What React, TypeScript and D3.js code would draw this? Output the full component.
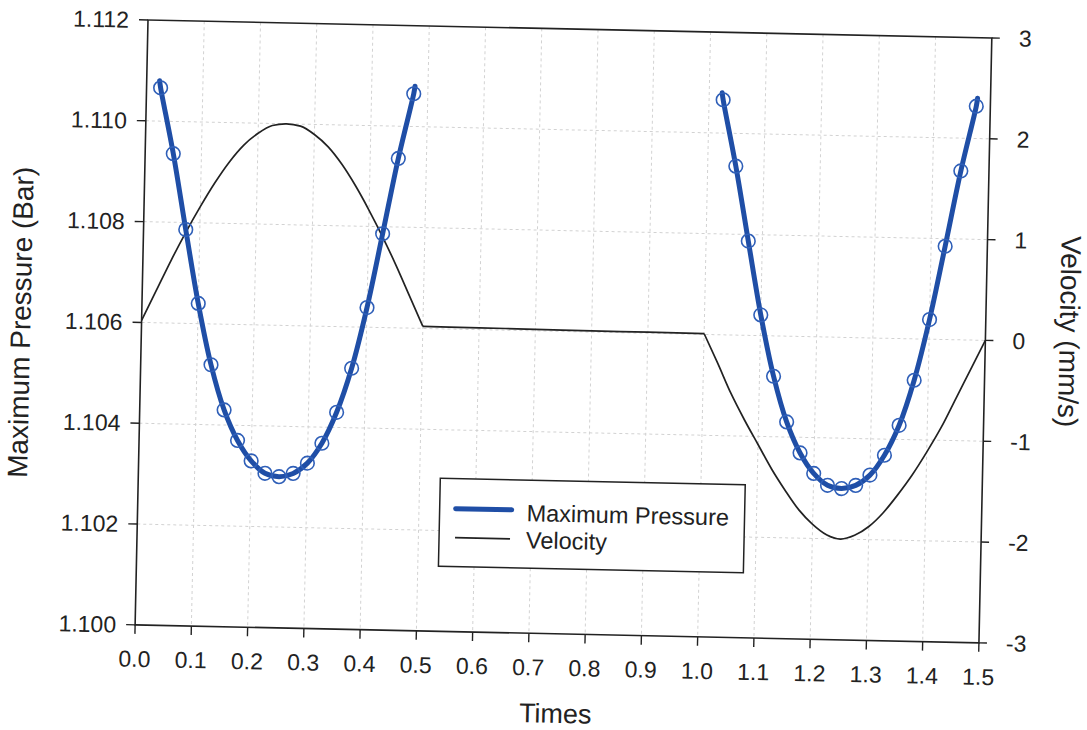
import React from "react";
import * as d3 from "d3";

// ---- Data ----
const pressureTimes1 = [0.025, 0.05, 0.075, 0.1, 0.125, 0.15, 0.175, 0.2, 0.225, 0.25, 0.275, 0.3, 0.325, 0.35, 0.375, 0.4, 0.425, 0.45, 0.475];
const pressureValues1 = [1.11066, 1.10936, 1.10786, 1.1064, 1.10519, 1.1043, 1.1037, 1.1033, 1.10306, 1.103, 1.10307, 1.10328, 1.10368, 1.1043, 1.10518, 1.10639, 1.10786, 1.10936, 1.11065];
const pressureTimes2 = [1.025, 1.05, 1.075, 1.1, 1.125, 1.15, 1.175, 1.2, 1.225, 1.25, 1.275, 1.3, 1.325, 1.35, 1.375, 1.4, 1.425, 1.45, 1.475];
const pressureValues2 = [1.11066, 1.10935, 1.10787, 1.10641, 1.1052, 1.1043, 1.10369, 1.10329, 1.10306, 1.103, 1.10307, 1.10328, 1.10368, 1.10428, 1.10518, 1.10639, 1.10785, 1.10935, 1.11064];
// fitted line runs slightly beyond the first / last markers
const lineEndTimes1 = [0.023, 0.477];
const lineEndTimes2 = [1.023, 1.477];
const lineEndValues = [1.1108, 1.1108];

// velocity, in three phases (rise/fall, rest, reverse)
const velocityTimesA = [0, 0.025, 0.05, 0.075, 0.1, 0.125, 0.15, 0.175, 0.2, 0.225, 0.25, 0.275, 0.3, 0.325, 0.35, 0.375, 0.4, 0.425, 0.45, 0.475, 0.5];
const velocityValuesA = [0.02, 0.32, 0.62, 0.9, 1.16, 1.4, 1.61, 1.78, 1.9, 1.98, 2.0, 1.98, 1.9, 1.78, 1.61, 1.4, 1.16, 0.9, 0.62, 0.32, 0.02];
const velocityTimesB = [0.5, 0.6, 0.7, 0.8, 0.9, 1.0];
const velocityValuesB = [0.02, 0.018, 0.015, 0.012, 0.01, 0.008];
const velocityTimesC = [1.0, 1.025, 1.05, 1.075, 1.1, 1.125, 1.15, 1.175, 1.2, 1.225, 1.25, 1.275, 1.3, 1.325, 1.35, 1.375, 1.4, 1.425, 1.45, 1.475, 1.5];
const velocityValuesC = [0.008, -0.28, -0.58, -0.84, -1.08, -1.32, -1.53, -1.72, -1.86, -1.96, -2.0, -1.96, -1.87, -1.73, -1.55, -1.35, -1.12, -0.87, -0.58, -0.29, 0.0];

const xTicks = [0, 0.1, 0.2, 0.3, 0.4, 0.5, 0.6, 0.7, 0.8, 0.9, 1.0, 1.1, 1.2, 1.3, 1.4, 1.5];
const leftTicks = [1.1, 1.102, 1.104, 1.106, 1.108, 1.11, 1.112];
const rightTicks = [-3, -2, -1, 0, 1, 2, 3];

const seriesNames = ["Maximum Pressure", "Velocity"];

// ---- Layout ----
const W = 844;
const H = 605;
const FONT = "'Liberation Sans', Arial, Helvetica, sans-serif";
const BLUE = "#1f4ea6";
const BLUE_MARK = "#2f5fb8";
const INK = "#222";

export default function App() {
  const x = d3.scaleLinear().domain([0, 1.5]).range([0, W]);
  const yL = d3.scaleLinear().domain([1.1, 1.112]).range([H, 0]);
  const yR = d3.scaleLinear().domain([-3, 3]).range([H, 0]);

  const pLine = d3
    .line<[number, number]>()
    .x((d) => x(d[0]))
    .y((d) => yL(d[1]))
    .curve(d3.curveCatmullRom);

  const vLine = d3
    .line<[number, number]>()
    .x((d) => x(d[0]))
    .y((d) => yR(d[1]))
    .curve(d3.curveMonotoneX);

  const zip = (ts: number[], vs: number[]) => ts.map((t, i) => [t, vs[i]] as [number, number]);

  const p1: [number, number][] = [
    [lineEndTimes1[0], lineEndValues[0]],
    ...zip(pressureTimes1, pressureValues1),
    [lineEndTimes1[1], lineEndValues[1]],
  ];
  const p2: [number, number][] = [
    [lineEndTimes2[0], lineEndValues[0]],
    ...zip(pressureTimes2, pressureValues2),
    [lineEndTimes2[1], lineEndValues[1]],
  ];
  const markers = [...zip(pressureTimes1, pressureValues1), ...zip(pressureTimes2, pressureValues2)];
  const velParts = [
    zip(velocityTimesA, velocityValuesA),
    zip(velocityTimesB, velocityValuesB),
    zip(velocityTimesC, velocityValuesC),
  ];

  const fmtL = d3.format(".3f");
  const fmtX = d3.format(".1f");

  return (
    <svg
      width={1087}
      height={730}
      style={{ position: "absolute", left: 0, top: 0, background: "#fff" }}
      fontFamily={FONT}
    >
      <rect x={0} y={0} width={1087} height={730} fill="#fff" />
      <g transform="translate(148,20) rotate(1.22)">
        {/* grid */}
        {xTicks.slice(1, -1).map((t) => (
          <line key={"gx" + t} x1={x(t)} x2={x(t)} y1={0} y2={H} stroke="#d2d2d2" strokeWidth={1} strokeDasharray="3,3" />
        ))}
        {leftTicks.slice(1, -1).map((t) => (
          <line key={"gy" + t} x1={0} x2={W} y1={yL(t)} y2={yL(t)} stroke="#d2d2d2" strokeWidth={1} strokeDasharray="3,3" />
        ))}

        {/* velocity */}
        {velParts.map((part, i) => (
          <path key={"v" + i} d={vLine(part) || ""} fill="none" stroke={INK} strokeWidth={1.7} strokeLinejoin="round" />
        ))}

        {/* pressure */}
        <path d={pLine(p1) || ""} fill="none" stroke={BLUE} strokeWidth={5} strokeLinecap="round" />
        <path d={pLine(p2) || ""} fill="none" stroke={BLUE} strokeWidth={5} strokeLinecap="round" />
        {markers.map((d, i) => (
          <circle key={"m" + i} cx={x(d[0])} cy={yL(d[1])} r={6.8} fill="none" stroke={BLUE_MARK} strokeWidth={1.6} />
        ))}

        {/* frame */}
        <rect x={0} y={0} width={W} height={H} fill="none" stroke={INK} strokeWidth={1.6} />

        {/* left axis */}
        {leftTicks.map((t) => (
          <g key={"lt" + t}>
            <line x1={-9} x2={0} y1={yL(t)} y2={yL(t)} stroke={INK} strokeWidth={1.4} />
            <text x={-19} y={yL(t)} dy="0.35em" textAnchor="end" fontSize={23} fill={INK}>
              {fmtL(t)}
            </text>
          </g>
        ))}
        {/* right axis */}
        {rightTicks.map((t) => (
          <g key={"rt" + t}>
            <line x1={W} x2={W + 8} y1={yR(t)} y2={yR(t)} stroke={INK} strokeWidth={1.4} />
            <text x={W + 27} y={yR(t)} dy="0.35em" textAnchor="start" fontSize={23} fill={INK}>
              {String(t)}
            </text>
          </g>
        ))}
        {/* bottom axis */}
        {xTicks.map((t) => (
          <g key={"bt" + t}>
            <line x1={x(t)} x2={x(t)} y1={H} y2={H + 9} stroke={INK} strokeWidth={1.4} />
            <text x={x(t)} y={H + 42} textAnchor="middle" fontSize={23} fill={INK}>
              {fmtX(t)}
            </text>
          </g>
        ))}

        {/* axis titles */}
        <text x={W / 2} y={H + 89} textAnchor="middle" fontSize={27} fill={INK}>
          Times
        </text>
        <text transform={`translate(-121,305) rotate(-90)`} textAnchor="middle" dy="0.35em" fontSize={28} fill={INK}>
          Maximum Pressure (Bar)
        </text>
        <text transform={`translate(928,292) rotate(90)`} textAnchor="middle" dy="0.35em" fontSize={28} fill={INK}>
          Velocity (mm/s)
        </text>

        {/* legend */}
        <rect x={302} y={452} width={305} height={88} fill="#fff" stroke={INK} strokeWidth={1.5} />
        <line x1={318} x2={374} y1={482} y2={482} stroke={BLUE} strokeWidth={5} strokeLinecap="round" />
        <text x={389} y={493} fontSize={23.5} fill={INK}>
          {seriesNames[0]}
        </text>
        <line x1={318} x2={373} y1={511} y2={511} stroke={INK} strokeWidth={1.6} />
        <text x={389} y={520} fontSize={23.5} fill={INK}>
          {seriesNames[1]}
        </text>
      </g>
    </svg>
  );
}
